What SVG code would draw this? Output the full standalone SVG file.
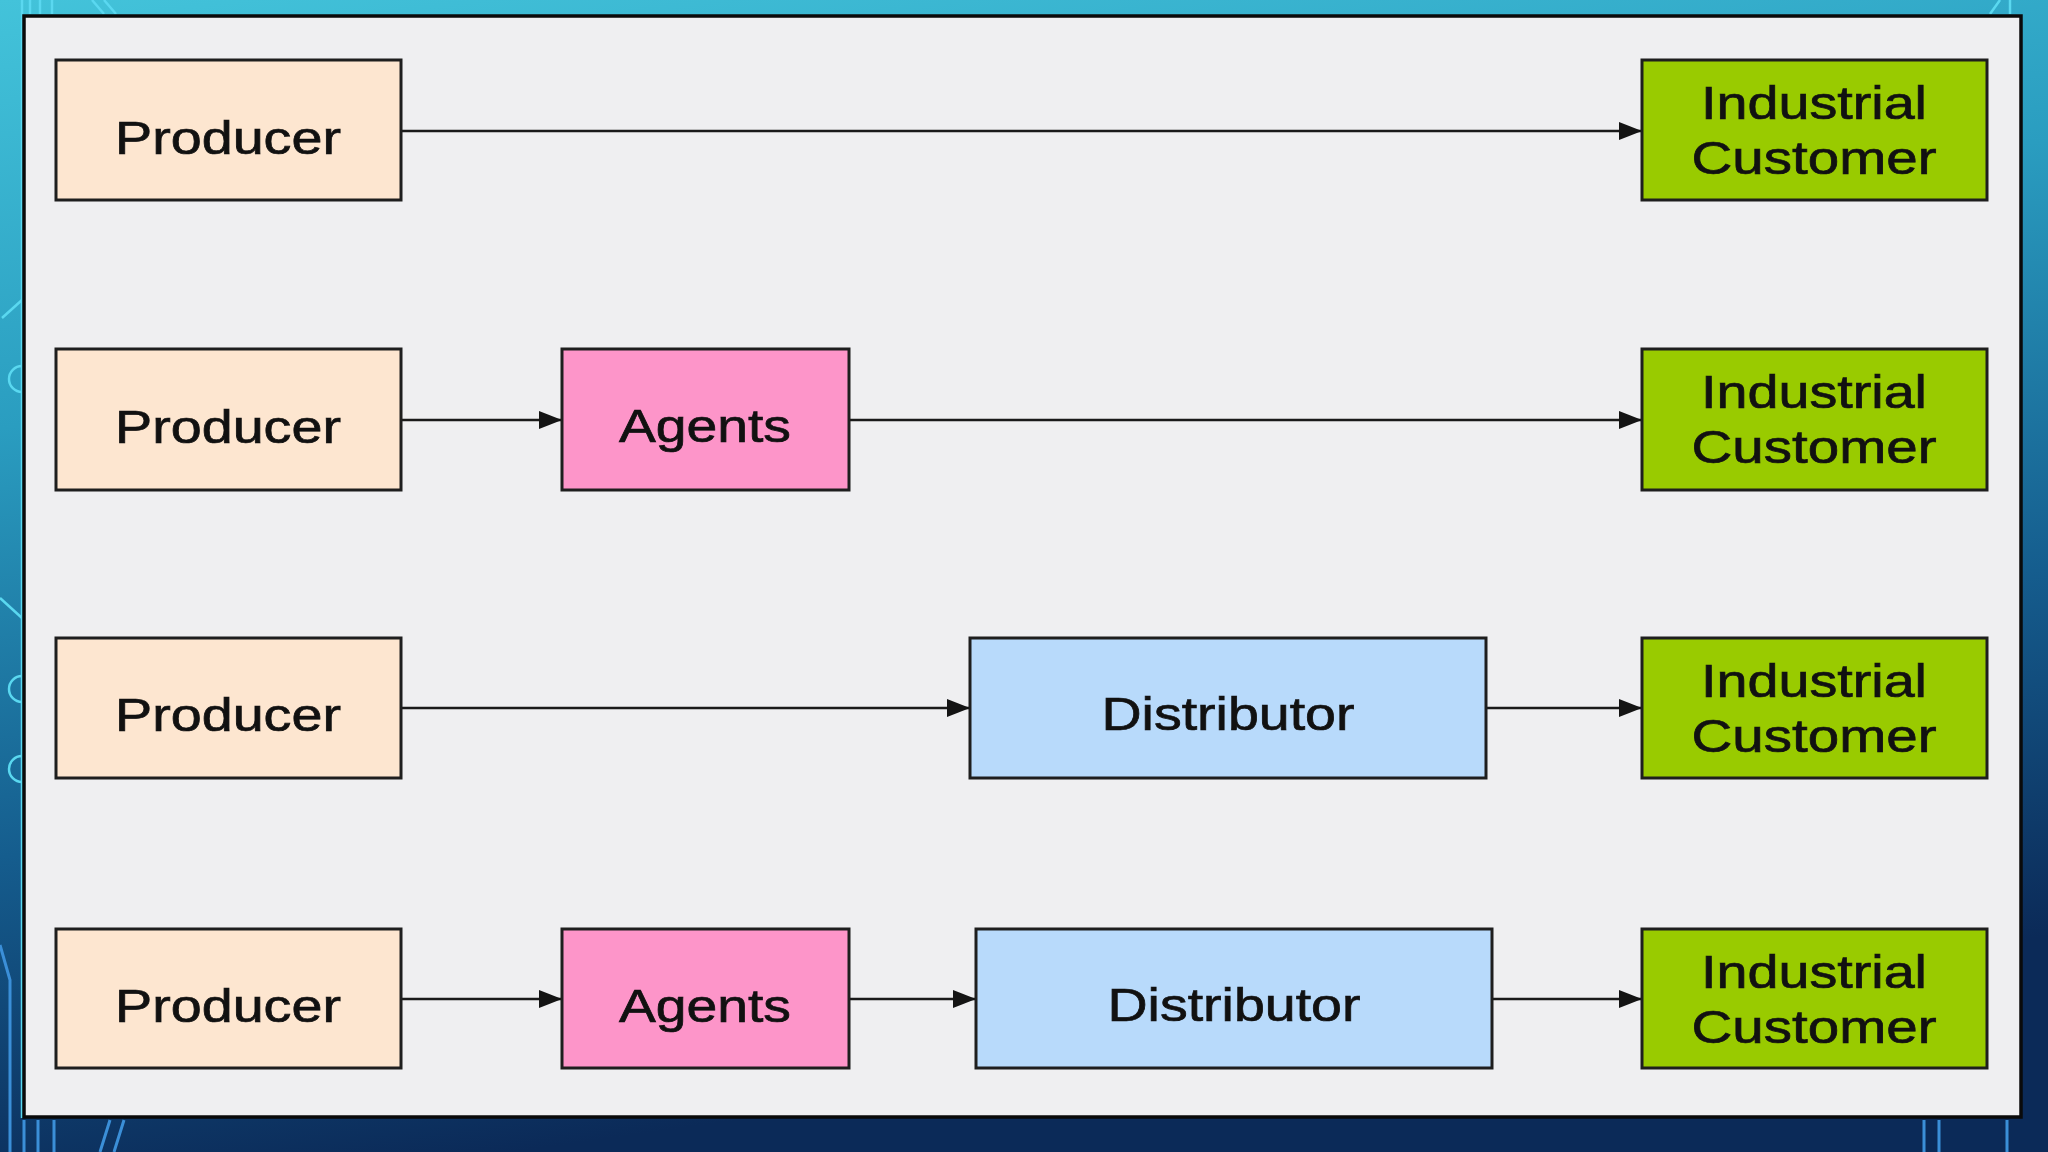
<svg xmlns="http://www.w3.org/2000/svg" width="2048" height="1152" viewBox="0 0 2048 1152">
  <defs>
    <linearGradient id="bg" x1="0" y1="0" x2="0.25" y2="1">
      <stop offset="0" stop-color="#43c3da"/>
      <stop offset="0.35" stop-color="#2a9dc0"/>
      <stop offset="0.7" stop-color="#155d8e"/>
      <stop offset="1" stop-color="#0b2a58"/>
    </linearGradient>
    <marker id="arr" markerUnits="userSpaceOnUse" markerWidth="24" markerHeight="20" refX="23" refY="9" orient="auto">
      <path d="M0,0 L23,9 L0,18 Z" fill="#141414"/>
    </marker>
    <style>
      .box { stroke: #1e1e1e; stroke-width: 3; }
      .prod { fill: #fde6d0; }
      .agent { fill: #fd95c9; }
      .dist { fill: #b8dafb; }
      .cust { fill: #99cb00; }
      .lbl { font-family: "Liberation Sans", Arial, sans-serif; font-size: 47px; fill: #111; stroke: #111; stroke-width: 0.7; text-anchor: middle; }
      .conn { stroke: #1a1a1a; stroke-width: 2.5; fill: none; marker-end: url(#arr); }
      .deco { stroke: #5ad8f0; stroke-width: 2.5; fill: none; }
      .deco2 { stroke: #3b8fd8; stroke-width: 3; fill: none; }
    </style>
  </defs>

  <!-- slide background -->
  <rect x="0" y="0" width="2048" height="1152" fill="url(#bg)"/>
  <g id="decorations">
    <path class="deco" d="M22,0 V1118"/>
    <path class="deco" d="M30,0 V14 M40,0 V14 M52,0 V14"/>
    <path class="deco" d="M92,0 L104,14 M104,0 L116,14"/>
    <path class="deco" d="M2,318 L22,300"/>
    <path class="deco" d="M22,366 A13,13 0 0 0 22,392"/>
    <path class="deco" d="M0,598 L22,618"/>
    <path class="deco" d="M22,676 A13,13 0 0 0 22,702"/>
    <path class="deco" d="M22,756 A13,13 0 0 0 22,782"/>
    <path class="deco" d="M1990,14 L2000,0 M2010,0 V14"/>
    <path class="deco2" d="M0,945 L10,980 V1152"/>
    <path class="deco2" d="M24,1120 V1152 M38,1120 V1152 M54,1120 V1152"/>
    <path class="deco2" d="M110,1120 L100,1152 M124,1120 L114,1152"/>
    <path class="deco2" d="M1924,1120 V1152 M1939,1120 V1152 M2007,1120 V1152"/>
  </g>

  <!-- white panel -->
  <rect x="24" y="16" width="1997" height="1101" fill="#efeff1" stroke="#0a0a0a" stroke-width="3.5"/>

  <g id="connectors">
    <line class="conn" x1="401" y1="131" x2="1642" y2="131"/>
    <line class="conn" x1="401" y1="420" x2="562" y2="420"/>
    <line class="conn" x1="849" y1="420" x2="1642" y2="420"/>
    <line class="conn" x1="401" y1="708" x2="970" y2="708"/>
    <line class="conn" x1="1486" y1="708" x2="1642" y2="708"/>
    <line class="conn" x1="401" y1="999" x2="562" y2="999"/>
    <line class="conn" x1="849" y1="999" x2="976" y2="999"/>
    <line class="conn" x1="1492" y1="999" x2="1642" y2="999"/>
  </g>

  <!-- row 1 -->
  <g id="producer1">
    <rect class="box prod" x="56" y="60" width="345" height="140"/>
    <text class="lbl" x="228" y="154" textLength="226" lengthAdjust="spacingAndGlyphs">Producer</text>
  </g>
  <g id="customer1">
    <rect class="box cust" x="1642" y="60" width="345" height="140"/>
    <text class="lbl" x="1814" y="119" textLength="226" lengthAdjust="spacingAndGlyphs">Industrial</text>
    <text class="lbl" x="1814" y="174" textLength="245" lengthAdjust="spacingAndGlyphs">Customer</text>
  </g>

  <!-- row 2 -->
  <g id="producer2">
    <rect class="box prod" x="56" y="349" width="345" height="141"/>
    <text class="lbl" x="228" y="443" textLength="226" lengthAdjust="spacingAndGlyphs">Producer</text>
  </g>
  <g id="agents2">
    <rect class="box agent" x="562" y="349" width="287" height="141"/>
    <text class="lbl" x="705" y="442" textLength="172" lengthAdjust="spacingAndGlyphs">Agents</text>
  </g>
  <g id="customer2">
    <rect class="box cust" x="1642" y="349" width="345" height="141"/>
    <text class="lbl" x="1814" y="408" textLength="226" lengthAdjust="spacingAndGlyphs">Industrial</text>
    <text class="lbl" x="1814" y="463" textLength="245" lengthAdjust="spacingAndGlyphs">Customer</text>
  </g>

  <!-- row 3 -->
  <g id="producer3">
    <rect class="box prod" x="56" y="638" width="345" height="140"/>
    <text class="lbl" x="228" y="731" textLength="226" lengthAdjust="spacingAndGlyphs">Producer</text>
  </g>
  <g id="distributor3">
    <rect class="box dist" x="970" y="638" width="516" height="140"/>
    <text class="lbl" x="1228" y="730" textLength="253" lengthAdjust="spacingAndGlyphs">Distributor</text>
  </g>
  <g id="customer3">
    <rect class="box cust" x="1642" y="638" width="345" height="140"/>
    <text class="lbl" x="1814" y="697" textLength="226" lengthAdjust="spacingAndGlyphs">Industrial</text>
    <text class="lbl" x="1814" y="752" textLength="245" lengthAdjust="spacingAndGlyphs">Customer</text>
  </g>

  <!-- row 4 -->
  <g id="producer4">
    <rect class="box prod" x="56" y="929" width="345" height="139"/>
    <text class="lbl" x="228" y="1022" textLength="226" lengthAdjust="spacingAndGlyphs">Producer</text>
  </g>
  <g id="agents4">
    <rect class="box agent" x="562" y="929" width="287" height="139"/>
    <text class="lbl" x="705" y="1022" textLength="172" lengthAdjust="spacingAndGlyphs">Agents</text>
  </g>
  <g id="distributor4">
    <rect class="box dist" x="976" y="929" width="516" height="139"/>
    <text class="lbl" x="1234" y="1021" textLength="253" lengthAdjust="spacingAndGlyphs">Distributor</text>
  </g>
  <g id="customer4">
    <rect class="box cust" x="1642" y="929" width="345" height="139"/>
    <text class="lbl" x="1814" y="988" textLength="226" lengthAdjust="spacingAndGlyphs">Industrial</text>
    <text class="lbl" x="1814" y="1043" textLength="245" lengthAdjust="spacingAndGlyphs">Customer</text>
  </g>
</svg>
